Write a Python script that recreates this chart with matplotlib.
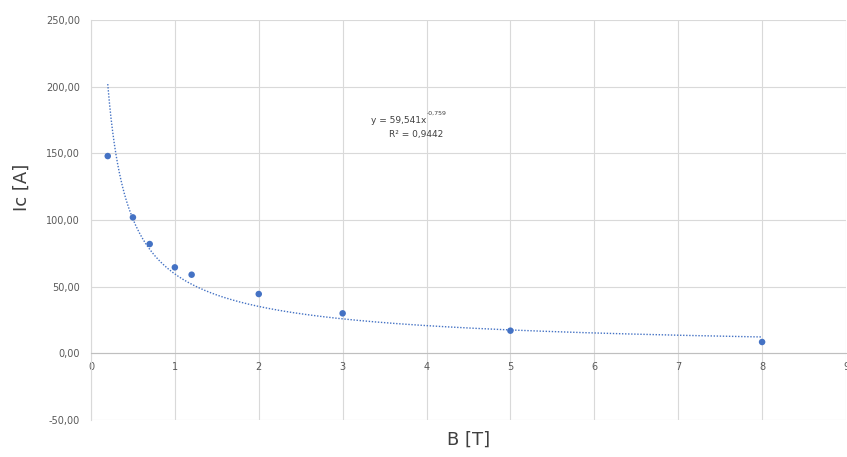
import matplotlib.pyplot as plt
import numpy as np
from matplotlib.ticker import FuncFormatter

# Data
B = [0.2, 0.5, 0.7, 1.0, 1.2, 2.0, 3.0, 5.0, 8.0]
Ic = [148, 102, 82, 64.5, 59, 44.5, 30, 17, 8.5]

# Power trendline shown on the chart
a_coef = 59.541
b_exp = -0.759
r2 = 0.9442

fig = plt.figure(figsize=(8.47, 4.57), dpi=100)
ax = fig.add_axes([0.1074, 0.081, 0.8914, 0.875])

xt = np.linspace(min(B), max(B), 400)
ax.plot(xt, a_coef * xt ** b_exp, color="#4472C4", lw=1.0, ls=(0, (1, 1.2)), zorder=2)
ax.scatter(B, Ic, s=22, color="#4472C4", zorder=3, edgecolors="none")

ax.set_xlim(0, 9)
ax.set_ylim(-50, 250)
ax.set_xticks(range(0, 10))
ax.set_yticks(range(-50, 251, 50))
ax.yaxis.set_major_formatter(FuncFormatter(lambda v, p: f"{v:.2f}".replace(".", ",")))
ax.grid(True, color="#d9d9d9", lw=0.8)
ax.set_axisbelow(True)

for s in ["top", "right"]:
    ax.spines[s].set_visible(False)
ax.spines["left"].set_color("#d9d9d9")
ax.spines["bottom"].set_position(("data", 0))
ax.spines["bottom"].set_color("#bfbfbf")
ax.tick_params(length=0, labelsize=7, colors="#595959")
ax.tick_params(axis="x", pad=6)
ax.tick_params(axis="y", pad=8)

ax.text(4.0, 175, f"y = {a_coef:.3f}x".replace(".", ","), fontsize=6.5, color="#404040",
        ha="right", va="center")
ax.text(4.0, 178, f"{b_exp:.3f}".replace(".", ","), fontsize=4.5, color="#404040",
        ha="left", va="bottom")
ax.text(3.88, 164, f"R² = {r2:.4f}".replace(".", ","), fontsize=6.5, color="#404040",
        ha="center", va="center")

fig.text(0.026, 0.59, "Ic [A]", rotation=90, fontsize=13, color="#404040",
         ha="center", va="center")
fig.text(0.553, 0.037, "B [T]", fontsize=13, color="#404040", ha="center", va="center")

fig.savefig("out.png", dpi=100)
